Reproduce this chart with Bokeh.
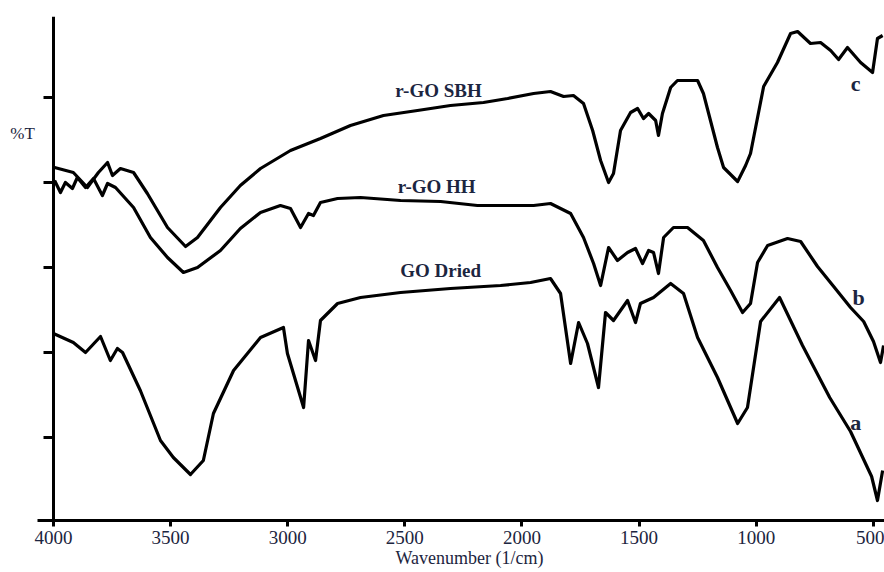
from bokeh.plotting import figure
from bokeh.models import Range1d, FixedTicker, Label
from bokeh.embed import file_html
from bokeh.resources import INLINE

# ---- data (wavenumber in 1/cm, transmittance in arbitrary units) ----
wn_a = [4000, 3915, 3863, 3799, 3757, 3727, 3705, 3629, 3543, 3488, 3415, 3360, 3317, 3231, 3116,
        3018, 3001, 2932, 2911, 2881, 2860, 2787, 2689, 2518, 2305, 2091, 1963, 1878, 1835, 1792,
        1758, 1720, 1673, 1643, 1609, 1549, 1515, 1494, 1438, 1365, 1310, 1250, 1165, 1079, 1037,
        981, 900, 802, 686, 597, 507, 482, 460]
t_a = [186, 177, 167, 183, 159, 171, 167, 129, 79, 62, 45, 59, 106, 149, 182,
       192, 166, 112, 179, 159, 199, 216, 222, 227, 231, 234, 237, 241, 226, 156,
       197, 176, 132, 207, 199, 219, 197, 216, 222, 236, 226, 182, 142, 96, 112,
       198, 222, 174, 122, 88, 43, 19, 49]

wn_b = [3995, 3970, 3949, 3919, 3898, 3863, 3829, 3791, 3769, 3735, 3658, 3586, 3513, 3445, 3385,
        3287, 3202, 3116, 3031, 2988, 2945, 2911, 2890, 2860, 2787, 2689, 2518, 2347, 2190, 1950,
        1878, 1792, 1737, 1694, 1664, 1630, 1592, 1549, 1515, 1485, 1459, 1438, 1417, 1395, 1353,
        1293, 1225, 1165, 1109, 1058, 1024, 994, 951, 866, 810, 738, 669, 597, 541, 499, 469, 456]
t_b = [339, 327, 337, 331, 342, 332, 341, 324, 336, 332, 312, 282, 262, 247, 252,
       269, 291, 307, 314, 311, 292, 306, 304, 317, 321, 322, 319, 318, 314, 314,
       316, 306, 282, 256, 234, 272, 259, 267, 271, 256, 269, 267, 246, 282, 292,
       292, 279, 252, 229, 207, 216, 257, 274, 281, 278, 253, 233, 212, 198, 178, 157, 174]

wn_c = [3995, 3915, 3855, 3808, 3769, 3748, 3714, 3658, 3599, 3513, 3436, 3385, 3287, 3202, 3116,
        2988, 2860, 2732, 2591, 2446, 2305, 2164, 2061, 1950, 1878, 1822, 1780, 1737, 1698, 1664,
        1630, 1609, 1579, 1536, 1506, 1481, 1459, 1429, 1417, 1400, 1365, 1336, 1250, 1225, 1165,
        1139, 1079, 1045, 1024, 968, 909, 853, 823, 768, 725, 682, 648, 610, 554, 503, 482, 460]
t_c = [352, 347, 332, 347, 357, 344, 351, 347, 326, 292, 273, 282, 312, 334, 351,
       369, 381, 394, 404, 409, 414, 417, 421, 426, 428, 423, 424, 416, 389, 359,
       337, 346, 389, 407, 411, 401, 406, 399, 384, 406, 432, 439, 439, 426, 372,
       352, 338, 354, 366, 433, 457, 486, 488, 476, 477, 469, 460, 472, 457, 447, 481, 484]

x_ticks = [4000, 3500, 3000, 2500, 2000, 1500, 1000, 500]
y_ticks = [82, 167, 252, 337, 422]

names = ["GO Dried", "r-GO HH", "r-GO SBH"]
name_pos_x = [2347, 2364, 2356]
name_pos_y = [249, 333, 429]
letters = ["a", "b", "c"]
letter_pos_x = [575, 563, 575]
letter_pos_y = [97, 222, 436]

FONT = "Liberation Serif"
TXT = "#1c2540"

p = figure(width=884, height=572, output_backend="svg", toolbar_location=None,
           x_range=Range1d(4226, 452), y_range=Range1d(-1, 503),
           min_border_left=0, min_border_right=0, min_border_top=16, min_border_bottom=52)
p.grid.visible = False
p.outline_line_color = None
p.background_fill_color = "white"

for wn, t in [(wn_a, t_a), (wn_b, t_b), (wn_c, t_c)]:
    p.line(wn, t, line_color="black", line_width=3.2, line_join="round")

# x axis
xa = p.xaxis[0]
xa.ticker = FixedTicker(ticks=x_ticks)
xa.bounds = (4068, 452)
xa.axis_line_width = 3
xa.axis_line_color = "black"
xa.major_tick_line_width = 3
xa.major_tick_out = 6
xa.major_tick_in = 0
xa.minor_tick_line_color = None
xa.major_label_text_font = FONT
xa.major_label_text_font_size = "19px"
xa.major_label_text_color = TXT
xa.major_label_standoff = 4
# leading no-break spaces shift the centred title to the right, as in the original
xa.axis_label = "\u00a0" * 12 + "Wavenumber (1/cm)"
xa.axis_label_text_font = FONT
xa.axis_label_text_font_style = "normal"
xa.axis_label_text_font_size = "18px"
xa.axis_label_text_color = TXT
xa.axis_label_standoff = 1

# y axis placed at 4000 cm-1 (ticks only, no labels)
ya = p.yaxis[0]
ya.fixed_location = 4000
ya.ticker = FixedTicker(ticks=y_ticks)
ya.axis_line_width = 3
ya.axis_line_color = "black"
ya.major_tick_line_width = 3
ya.major_tick_out = 10
ya.major_tick_in = 0
ya.minor_tick_line_color = None
ya.major_label_text_font_size = "1px"
ya.major_label_text_color = None

p.add_layout(Label(x=4132, y=386, text="%T", text_font=FONT, text_font_size="17px",
                   text_color=TXT, text_align="center", text_baseline="middle"))

for s, x, y in zip(names, name_pos_x, name_pos_y):
    p.add_layout(Label(x=x, y=y, text=s, text_font=FONT, text_font_size="19px",
                       text_font_style="bold", text_color=TXT,
                       text_align="center", text_baseline="middle"))
for s, x, y in zip(letters, letter_pos_x, letter_pos_y):
    p.add_layout(Label(x=x, y=y, text=s, text_font=FONT, text_font_size="22px",
                       text_font_style="bold", text_color=TXT,
                       text_align="center", text_baseline="middle"))

open("out.html", "w").write(file_html(p, INLINE))
